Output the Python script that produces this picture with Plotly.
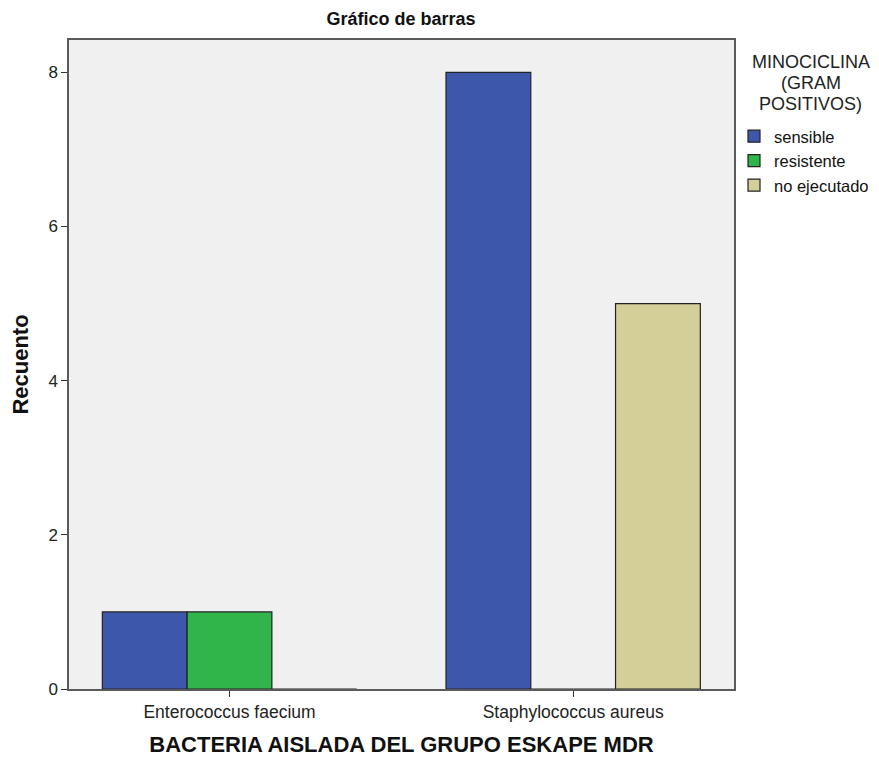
import plotly.graph_objects as go

categories = ["Enterococcus faecium", "Staphylococcus aureus"]
series_names = ["sensible", "resistente", "no ejecutado"]
sensible = [1, 8]
resistente = [1, 0]
no_ejecutado = [0, 5]
y_ticks = [0, 2, 4, 6, 8]
legend_title_lines = ["MINOCICLINA", "(GRAM", "POSITIVOS)"]

colors = ["#3d57aa", "#2fb54a", "#d4cf99"]
values = [sensible, resistente, no_ejecutado]

FONT = "Liberation Sans, Arial, sans-serif"

fig = go.Figure()
for name, vals, col in zip(series_names, values, colors):
    fig.add_trace(go.Bar(
        x=categories, y=vals, name=name,
        marker=dict(color=col, line=dict(color="#222222", width=1.2)),
    ))

# page body has an 8px margin, so the figure is sized to fit the window
W, H = 871, 754
ml, mr, mt, mb = 60.5, 145, 32, 72.5
plot_h = H - mt - mb

annotations = []
for i, line in enumerate(legend_title_lines):
    yc = 62.5 + 21 * i - 8  # centre of line in figure px
    annotations.append(dict(
        text=line, xref="paper", yref="paper",
        x=1.1157, y=1 - (yc - mt) / plot_h, xanchor="center", yanchor="middle",
        showarrow=False, font=dict(size=18, family=FONT, color="#222222")))

fig.update_layout(
    width=W, height=H,
    margin=dict(l=ml, r=mr, t=mt, b=mb, pad=0, autoexpand=False),
    paper_bgcolor="white",
    plot_bgcolor="#f0f0f0",
    barmode="group",
    bargap=0.26,
    bargroupgap=0,
    font=dict(family=FONT, color="#222222", size=17),
    title=dict(text="<b>Gráfico de barras</b>", x=0.4512, xanchor="center",
               y=1 - 10.5 / H, yanchor="middle",
               font=dict(size=18, family=FONT, color="#111111")),
    showlegend=True,
    legend=dict(x=1.0, xanchor="left", y=0.8783, yanchor="top",
                bgcolor="rgba(0,0,0,0)", font=dict(size=16.5, family=FONT, color="#111111"),
                tracegroupgap=0, itemwidth=30),
    annotations=annotations,
)

fig.update_xaxes(
    range=[-0.467, 1.468],
    showline=True, linecolor="#5a5a5a", linewidth=1.5, mirror=True,
    ticks="outside", ticklen=6, tickcolor="#333333", tickwidth=1.2,
    showgrid=False, zeroline=False,
    tickfont=dict(size=17.5, family=FONT, color="#222222"),
    title=dict(text="<b>BACTERIA AISLADA DEL GRUPO ESKAPE MDR</b>", standoff=16,
               font=dict(size=22, family=FONT, color="#111111")),
)
fig.update_yaxes(
    range=[0, 8.42],
    tickvals=y_ticks,
    showline=True, linecolor="#5a5a5a", linewidth=1.5, mirror=True,
    ticks="outside", ticklen=6, tickcolor="#333333", tickwidth=1.2,
    showgrid=False, zeroline=False,
    tickfont=dict(size=17, family=FONT, color="#222222"),
    title=dict(text="<b>Recuento</b>", standoff=14,
               font=dict(size=22, family=FONT, color="#111111")),
)

fig.write_html("out.html")
